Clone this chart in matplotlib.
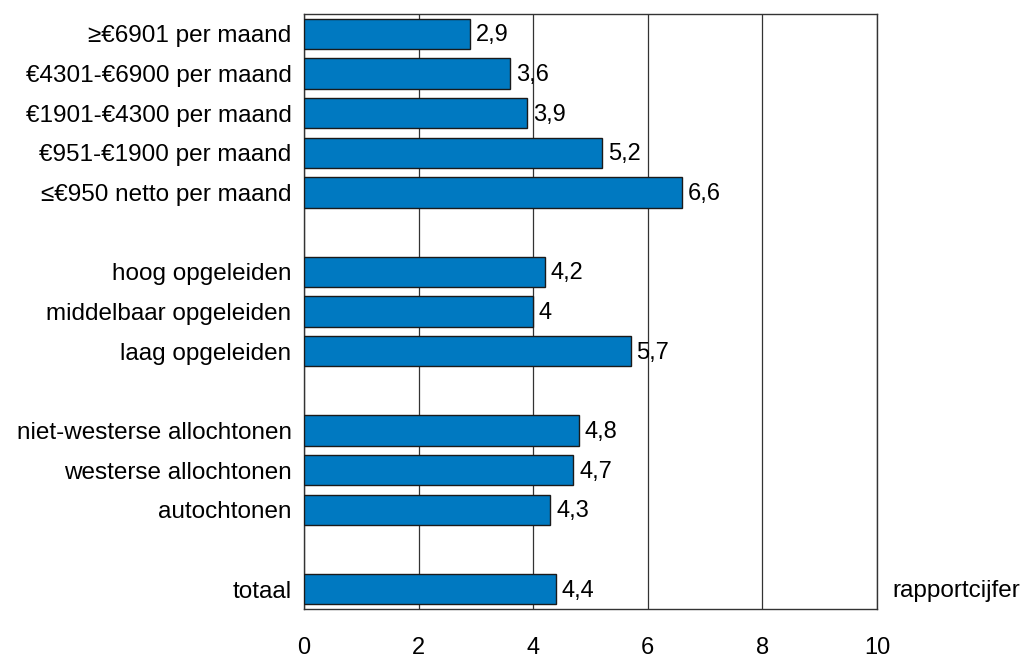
import matplotlib
matplotlib.use('Agg')
import matplotlib.pyplot as plt

plt.rcParams['font.family'] = ['Liberation Sans', 'DejaVu Sans']

# categorieën van boven naar beneden (None = lege regel)
categories = [
    "≥€6901 per maand",
    "€4301-€6900 per maand",
    "€1901-€4300 per maand",
    "€951-€1900 per maand",
    "≤€950 netto per maand",
    None,
    "hoog opgeleiden",
    "middelbaar opgeleiden",
    "laag opgeleiden",
    None,
    "niet-westerse allochtonen",
    "westerse allochtonen",
    "autochtonen",
    None,
    "totaal",
]
values = [2.9, 3.6, 3.9, 5.2, 6.6, None, 4.2, 4.0, 5.7, None, 4.8, 4.7, 4.3, None, 4.4]
xticks = [0, 2, 4, 6, 8, 10]


def fmt(v):
    s = f"{v:.1f}".replace(".", ",")
    return s[:-2] if s.endswith(",0") else s


fig = plt.figure(figsize=(10.26, 6.59), dpi=100)
ax = fig.add_axes([0.2963, 0.0759, 0.5585, 0.9029])

ys = [i for i, v in enumerate(values) if v is not None]
vals = [v for v in values if v is not None]
labels = [c for c in categories if c is not None]

ax.barh(ys, vals, height=0.76, color='#0079C1', edgecolor='#1a1a1a',
        linewidth=1.0, zorder=3)
for y, v in zip(ys, vals):
    ax.text(v + 0.1, y + 0.04, fmt(v), va='center', ha='left', fontsize=17, zorder=4)

ax.set_xlim(0, 10)
ax.set_ylim(14.5, -0.5)
ax.set_yticks(ys)
ax.set_yticklabels(labels, fontsize=17.5)
ax.set_xticks(xticks)
ax.set_xticklabels([str(t) for t in xticks], fontsize=17)
ax.tick_params(axis='both', length=0)
ax.tick_params(axis='x', pad=20)
ax.tick_params(axis='y', pad=9)
ax.grid(axis='x', color='#333333', linewidth=0.9, zorder=0)
for sp in ax.spines.values():
    sp.set_color('#333333')
    sp.set_linewidth(1.0)

ax.text(1.027, 14.05, "rapportcijfer", transform=ax.get_yaxis_transform(),
        va='center', ha='left', fontsize=17.5)

fig.savefig("out.png", dpi=100)
